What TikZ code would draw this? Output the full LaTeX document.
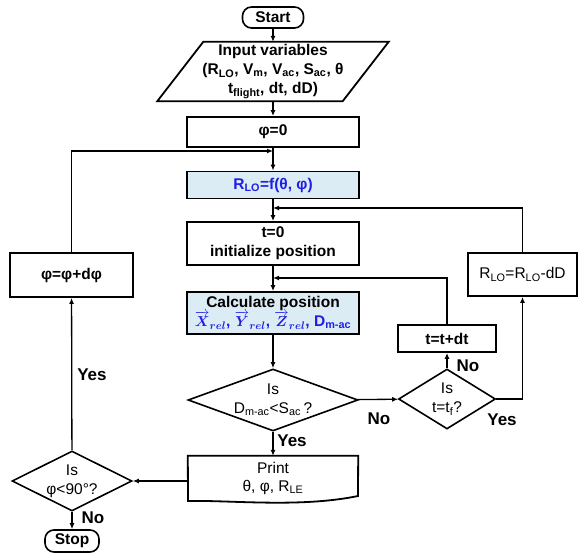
\documentclass[tikz,border=0pt]{standalone}
\usepackage{amsmath,amssymb,xcolor,tikz,fontspec}
\usetikzlibrary{arrows.meta,calc,positioning,shapes.geometric}
\setmainfont{Liberation Sans}
\definecolor{calcfill}{RGB}{220,236,244}
\definecolor{calcblue}{RGB}{30,30,230}
\newcommand{\low}[1]{\textsubscript{#1}}
\newcommand{\relvec}[1]{\overrightarrow{\boldsymbol{#1}}_{\boldsymbol{rel}}}

\begin{document}
\begin{tikzpicture}[x=1pt,y=-1pt,>={Latex[length=6pt,width=5pt]},
 font=\fontsize{15.5}{19}\selectfont\bfseries,
 box/.style={draw,line width=1.8pt,align=center,minimum width=172pt,inner sep=2pt},
 term/.style={draw,line width=1.6pt,rounded corners=9pt,minimum height=21pt,inner sep=2pt},
 decision/.style={draw,diamond,line width=1.6pt,align=center,inner sep=0pt,font=\fontsize{15.5}{19}\selectfont},
 flow/.style={->,line width=1.3pt},
 lbl/.style={font=\fontsize{17}{20}\selectfont\bfseries}]
\useasboundingbox (0,0) rectangle (582,556);
% main column
\node[term,minimum width=61pt] (start) at (273,17.5) {Start};
\node[minimum width=185pt,minimum height=59pt,align=center,inner sep=0pt] (input) at (273,71.5)
 {Input variables\\(R\low{LO}, V\low{m}, V\low{ac}, S\low{ac}, θ\\t\low{flight}, dt, dD)};
\draw[line width=1.8pt] ([xshift=-23pt]input.south west) -- ([xshift=-23pt]input.south east)
 -- ([xshift=23pt]input.north east) -- ([xshift=23pt]input.north west) -- cycle;
\node[box,minimum height=30pt] (phizero) at (273,132) {φ=0};
\node[box,minimum height=27pt,fill=calcfill,text=calcblue] (rlo) at (273,185) {R\low{LO}=f(θ, φ)};
\node[box,minimum height=43pt] (tzero) at (273,243.5) {t=0\\initialize position};
\node[box,minimum height=42pt,fill=calcfill] (calc) at (273,313)
 {Calculate position\\\textcolor{calcblue}{$\relvec{X}$, $\relvec{Y}$, $\relvec{Z}$, D\low{m-ac}}};
\node[decision,aspect=2.74,minimum width=170pt,minimum height=62pt] (isdist) at (273,400)
 {Is\\D\low{m-ac}<S\low{ac}\,?};
\node[minimum width=170pt,minimum height=44pt,align=center,inner sep=0pt,font=\fontsize{15.5}{18}\selectfont] (print) at (273,478)
 {Print\\θ, φ, R\low{LE}};
\draw[line width=1.8pt] (print.north west) -- (print.north east) -- (358,496)
 .. controls (300,508) and (230,500) .. (188,501) -- cycle;
% right loops
\node[decision,aspect=1.6,minimum width=97pt,minimum height=60pt] (istime) at (447,399) {Is\\t=t\low{f}?};
\node[box,minimum width=98pt,minimum height=27pt] (tstep) at (447,338.5) {t=t+dt};
\node[box,minimum width=109pt,minimum height=43pt,font=\fontsize{15.5}{19}\selectfont] (rstep) at (522.5,274.5)
 {R\low{LO}=R\low{LO}-dD};
% left loop
\node[box,minimum width=123pt,minimum height=44pt] (phistep) at (71.5,275) {φ=φ+dφ};
\node[decision,aspect=2,minimum width=120pt,minimum height=60pt] (isphi) at (72,481) {Is\\φ<90°?};
\node[term,minimum width=54pt,minimum height=22pt] (stop) at (72,541) {Stop};
\coordinate (jphi) at (273,151);
\coordinate (jrad) at (273,208);
\coordinate (jtime) at (273,278);

\draw[flow] (start) -- (input);
\draw[flow] (input) -- (phizero);
\draw[flow] (phizero) -- (rlo);
\draw[flow] (rlo) -- (tzero);
\draw[flow] (tzero) -- (calc);
\draw[flow] (calc) -- (isdist);
\draw[flow] (isdist) -- (print);
\draw[flow] (isdist) -- (istime);
\draw[flow] (istime) -- (tstep);
\draw[flow] (tstep.north) |- (jtime);
\draw[flow] (istime.east) -| (rstep.south);
\draw[flow] (rstep.north) |- (jrad);
\draw[flow] (print.west |- isphi.east) -- (isphi.east);
\draw[flow] (isphi) -- (phistep);
\draw[flow] (phistep.north) |- (jphi);
\draw[flow] (isphi) -- (stop);

\node[lbl] (nodist) at (379,419) {No};
\node[lbl] (yesdist) at (292,441) {Yes};
\node[lbl] (notime) at (468,366) {No};
\node[lbl] (yestime) at (502,420) {Yes};
\node[lbl] (yesphi) at (92,375) {Yes};
\node[lbl] (nophi) at (93,518) {No};
\end{tikzpicture}
\end{document}
